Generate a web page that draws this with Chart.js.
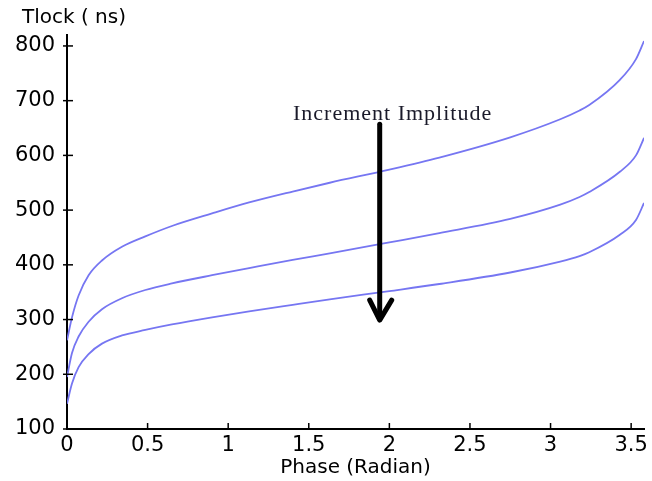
<html>

<head>
    <script src="https://cdn.jsdelivr.net/npm/chart.js"></script>
    <style>
        body { margin: 0; background: #fff; }
        #wrap { width: 652px; height: 481px; }
    </style>
</head>

<body>
    <div id="wrap">
        <canvas id="chart_id"></canvas>
    </div>
    <script>
        // phase (radian) sample points
        const phase = [0, 0.031, 0.072, 0.134, 0.217, 0.341, 0.486, 0.651, 0.9, 1.13, 1.4, 1.63, 2.0, 2.31, 2.75, 3.06, 3.18, 3.24, 3.43, 3.53, 3.58];
        // lock time (ns) for three amplitudes, smallest amplitude on top
        const tlockLow = [262, 304, 344, 381, 408, 433, 452, 471, 494, 514, 534, 550, 574, 596, 633, 666, 682, 692, 738, 776, 809];
        const tlockMid = [195, 239, 269, 296, 319, 339, 354, 366, 381, 394, 409, 421, 441, 458, 484, 510, 524, 533, 570, 600, 632];
        const tlockHigh = [146, 183, 213, 237, 256, 271, 281, 291, 304, 315, 327, 337, 352, 365, 386, 406, 416, 423, 455, 482, 513];
        const yTicks = [100, 200, 300, 400, 500, 600, 700, 800];
        const xTicks = [0, 0.5, 1, 1.5, 2, 2.5, 3, 3.5];

        // arrow annotation (phase, from, to) and its label
        const arrow = { x: 1.94, from: 657, to: 299 };
        const arrowText = { x: 2.02, y: 665, text: 'Increment Implitude' };

        const lineColor = '#7676f2';

        function toPoints(ys) {
            return phase.map((p, i) => ({ x: p, y: ys[i] }));
        }

        function series(label, ys) {
            return {
                label: label,
                data: toPoints(ys),
                borderColor: lineColor,
                borderWidth: 1.8,
                pointRadius: 0,
                fill: false,
                cubicInterpolationMode: 'monotone'
            };
        }

        // inward tick marks, y title and the arrow
        const extras = {
            id: 'extras',
            afterDraw(chart) {
                const { ctx, scales: { x, y }, chartArea } = chart;
                ctx.save();
                ctx.strokeStyle = '#000';
                ctx.lineWidth = 1.5;
                yTicks.forEach(v => {
                    const py = y.getPixelForValue(v);
                    ctx.beginPath();
                    ctx.moveTo(chartArea.left - 4, py);
                    ctx.lineTo(chartArea.left + 6, py);
                    ctx.stroke();
                });
                xTicks.forEach(v => {
                    const px = x.getPixelForValue(v);
                    ctx.beginPath();
                    ctx.moveTo(px, chartArea.bottom);
                    ctx.lineTo(px, chartArea.bottom - 6);
                    ctx.stroke();
                });

                ctx.fillStyle = '#000';
                ctx.font = '20px "DejaVu Sans"';
                ctx.textAlign = 'left';
                ctx.textBaseline = 'middle';
                ctx.fillText('Tlock ( ns)', 22, 18);

                // arrow
                const ax = x.getPixelForValue(arrow.x);
                const y0 = y.getPixelForValue(arrow.from);
                const y1 = y.getPixelForValue(arrow.to);
                ctx.lineWidth = 5;
                ctx.lineCap = 'round';
                ctx.lineJoin = 'round';
                ctx.beginPath();
                ctx.moveTo(ax, y0);
                ctx.lineTo(ax, y1 - 2);
                ctx.stroke();
                ctx.beginPath();
                ctx.moveTo(ax - 10, y1 - 20);
                ctx.lineTo(ax, y1);
                ctx.lineTo(ax + 12, y1 - 20);
                ctx.stroke();

                ctx.font = '22px "Liberation Serif"';
                ctx.letterSpacing = '1px';
                ctx.textAlign = 'center';
                ctx.textBaseline = 'alphabetic';
                ctx.fillStyle = '#1a1a2a';
                ctx.fillText(arrowText.text, x.getPixelForValue(arrowText.x), y.getPixelForValue(arrowText.y));
                ctx.restore();
            }
        };

        new Chart(document.getElementById('chart_id'), {
            type: 'line',
            data: {
                datasets: [
                    series('low', tlockLow),
                    series('mid', tlockMid),
                    series('high', tlockHigh)
                ]
            },
            options: {
                responsive: true,
                maintainAspectRatio: false,
                animation: false,
                layout: { padding: { top: 35, right: 7, left: 0, bottom: 0 } },
                plugins: { legend: { display: false }, tooltip: { enabled: false } },
                scales: {
                    x: {
                        type: 'linear',
                        min: 0,
                        max: 3.58,
                        afterBuildTicks: s => { s.ticks = xTicks.map(v => ({ value: v })); },
                        grid: { display: false, drawTicks: false },
                        border: { color: '#000', width: 2 },
                        ticks: {
                            color: '#000',
                            padding: 4,
                            maxRotation: 0,
                            callback: v => String(v),
                            font: { family: 'DejaVu Sans', size: 21 }
                        },
                        title: {
                            display: true,
                            text: 'Phase (Radian)',
                            color: '#000',
                            padding: { top: 0, bottom: 1 },
                            font: { family: 'DejaVu Sans', size: 20 }
                        },
                        afterFit: s => { s.height = 52; }
                    },
                    y: {
                        min: 100,
                        max: 820,
                        afterBuildTicks: s => { s.ticks = yTicks.map(v => ({ value: v })); },
                        grid: { display: false, drawTicks: false },
                        border: { color: '#000', width: 2 },
                        ticks: {
                            color: '#000',
                            padding: 12,
                            font: { family: 'DejaVu Sans', size: 21 }
                        },
                        afterFit: s => { s.width = 67; }
                    }
                }
            },
            plugins: [extras]
        });
    </script>
</body>

</html>
